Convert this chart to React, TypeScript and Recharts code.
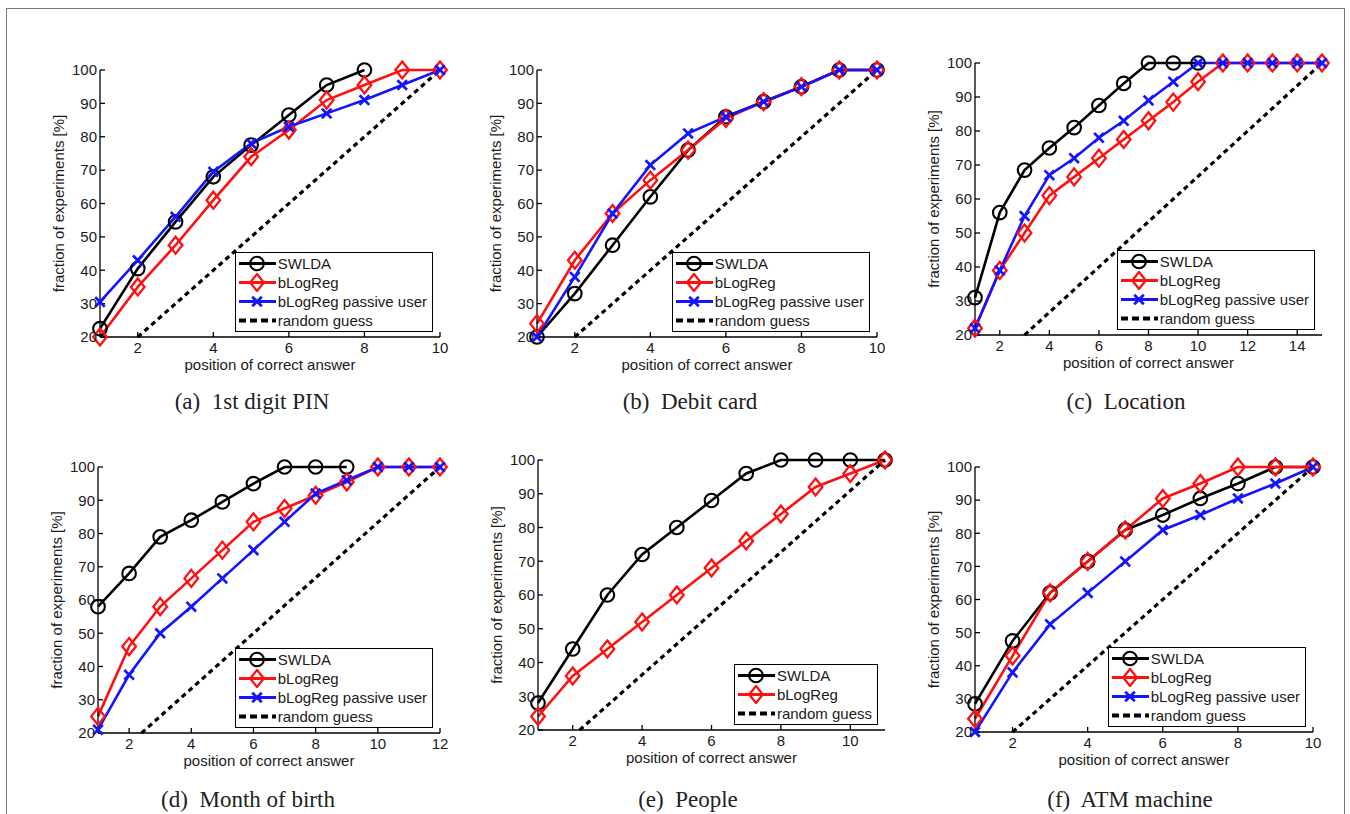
import { LineChart, Line, XAxis, YAxis, Legend } from 'recharts';

const SANS = '"Liberation Sans", Arial, Helvetica, sans-serif';
const SERIF = '"Liberation Serif", "Times New Roman", serif';
const INK = '#1a1a1a';

const yTicks = [20, 30, 40, 50, 60, 70, 80, 90, 100];
const randomY = [20, 100];

// (a) 1st digit PIN
const pinSwlda = [22.5, 40.5, 54.5, 68, 77.5, 86.5, 95.5, 100];
const pinBlogreg = [20, 35, 47.5, 61, 74, 82, 91, 95.5, 100, 100];
const pinPassive = [30.5, 43, 56, 69.5, 78, 83, 87, 91, 95.5, 100];
const pinRandomX = [2, 10];

// (b) Debit card
const debitSwlda = [20, 33, 47.5, 62, 76, 86, 90.5, 95, 100, 100];
const debitBlogreg = [24, 43, 57, 67, 76, 85.5, 90.5, 95, 100, 100];
const debitPassive = [20, 38, 57, 71.5, 81, 86, 90.5, 95, 100, 100];
const debitRandomX = [2, 10];

// (c) Location
const locSwlda = [31, 56, 68.5, 75, 81, 87.5, 94, 100, 100, 100];
const locBlogreg = [22, 39, 50, 61, 66.5, 72, 77.5, 83, 88.5, 94.5, 100, 100, 100, 100, 100];
const locPassive = [22, 39, 55, 67, 72, 78, 83, 89, 94.5, 100, 100, 100, 100, 100, 100];
const locRandomX = [3, 15];

// (d) Month of birth
const monthSwlda = [58, 68, 79, 84, 89.5, 95, 100, 100, 100];
const monthBlogreg = [25, 46, 58, 66.5, 75, 83.5, 87.5, 91.5, 95.5, 100, 100, 100];
const monthPassive = [21, 37.5, 50, 58, 66.5, 75, 83.5, 92, 96, 100, 100, 100];
const monthRandomX = [2.4, 12];

// (e) People
const peopleSwlda = [28, 44, 60, 72, 80, 88, 96, 100, 100, 100, 100];
const peopleBlogreg = [24, 36, 44, 52, 60, 68, 76, 84, 92, 96, 100];
const peopleRandomX = [2.2, 11];

// (f) ATM machine
const atmSwlda = [28.5, 47.5, 62, 71.5, 81, 85.5, 90.5, 95, 100, 100];
const atmBlogreg = [24, 43, 62, 71.5, 81, 90.5, 95, 100, 100, 100];
const atmPassive = [20, 38, 52.5, 62, 71.5, 81, 85.5, 90.5, 95, 100];
const atmRandomX = [2, 10];

type Kind = 'swlda' | 'blogreg' | 'passive' | 'random';

const SERIES: Record<Kind, { name: string; color: string }> = {
  swlda: { name: 'SWLDA', color: '#000000' },
  blogreg: { name: 'bLogReg', color: '#ff1010' },
  passive: { name: 'bLogReg passive user', color: '#1414ff' },
  random: { name: 'random guess', color: '#000000' },
};

const toPoints = (ys: number[]) => ys.map((y, i) => ({ x: i + 1, y }));
const randomPoints = (xs: number[]) => xs.map((x, i) => ({ x, y: randomY[i] }));

function Marker({ kind, cx, cy }: { kind: Kind; cx: number; cy: number }) {
  if (kind === 'swlda') {
    return <circle cx={cx} cy={cy} r={6.8} fill="none" stroke="#000" strokeWidth={2.1} />;
  }
  if (kind === 'blogreg') {
    const pts = `${cx},${cy - 8.5} ${cx + 6.8},${cy} ${cx},${cy + 8.5} ${cx - 6.8},${cy}`;
    return <polygon points={pts} fill="none" stroke={SERIES.blogreg.color} strokeWidth={2.3} />;
  }
  if (kind === 'passive') {
    const d = 4.8;
    return (
      <g stroke={SERIES.passive.color} strokeWidth={2.7}>
        <line x1={cx - d} y1={cy - d} x2={cx + d} y2={cy + d} />
        <line x1={cx - d} y1={cy + d} x2={cx + d} y2={cy - d} />
      </g>
    );
  }
  return null;
}

function LegendBox({ kinds }: { kinds: Kind[] }) {
  return (
    <div
      style={{
        border: '1px solid #000',
        background: '#fff',
        padding: '1px 5px 1px 1px',
        fontFamily: SANS,
        fontSize: 15,
        color: INK,
        lineHeight: '19px',
        whiteSpace: 'nowrap',
      }}
    >
      {kinds.map((k) => (
        <div key={k} style={{ display: 'flex', alignItems: 'center', height: 19 }}>
          <svg width={40} height={19} style={{ display: 'block' }}>
            <line
              x1={2}
              x2={39}
              y1={9.5}
              y2={9.5}
              stroke={SERIES[k].color}
              strokeWidth={k === 'random' ? 4 : 2.8}
              strokeDasharray={k === 'random' ? '7 4' : undefined}
            />
            <Marker kind={k} cx={20} cy={9.5} />
          </svg>
          <span style={{ marginLeft: 1 }}>{SERIES[k].name}</span>
        </div>
      ))}
    </div>
  );
}

interface SeriesDef {
  kind: Kind;
  data: { x: number; y: number }[];
}

interface PanelProps {
  box: { left: number; top: number; right: number; bottom: number };
  xMax: number;
  xTicks: number[];
  series: SeriesDef[];
}

const YW = 82;
const XH = 56;
const MT = 10;
const MR = 15;

function Panel({ box, xMax, xTicks, series }: PanelProps) {
  const w = box.right - box.left;
  const h = box.bottom - box.top;
  return (
    <div style={{ position: 'absolute', left: box.left - YW, top: box.top - MT }}>
      <LineChart
        width={w + YW + MR}
        height={h + MT + XH}
        margin={{ top: MT, right: MR, left: 0, bottom: 0 }}
        style={{ fontFamily: SANS }}
      >
        <XAxis
          type="number"
          dataKey="x"
          domain={[1, xMax]}
          ticks={xTicks}
          interval={0}
          height={XH}
          stroke="#000"
          strokeWidth={1.3}
          tickSize={-5}
          tickMargin={10}
          tick={{ fill: INK, fontSize: 15 }}
          label={{ value: 'position of correct answer', position: 'center', fill: INK, fontSize: 15 }}
        />
        <XAxis
          xAxisId="top"
          orientation="top"
          type="number"
          domain={[1, xMax]}
          ticks={xTicks}
          interval={0}
          height={0}
          stroke="#000"
          strokeWidth={1.3}
          tickSize={-5}
          tick={false}
        />
        <YAxis
          type="number"
          domain={[20, 100]}
          ticks={yTicks}
          interval={0}
          width={YW}
          stroke="#000"
          strokeWidth={1.3}
          tickSize={-5}
          tickMargin={8}
          tick={{ fill: INK, fontSize: 15 }}
          label={{ value: 'fraction of experiments [%]', angle: -90, position: 'center', fill: INK, fontSize: 15 }}
        />
        <YAxis
          yAxisId="right"
          orientation="right"
          type="number"
          domain={[20, 100]}
          ticks={yTicks}
          interval={0}
          width={0}
          stroke="#000"
          strokeWidth={1.3}
          tickSize={-5}
          tick={false}
        />
        {series.map((s) => (
          <Line
            key={s.kind}
            data={s.data}
            dataKey="y"
            type="linear"
            stroke={SERIES[s.kind].color}
            strokeWidth={s.kind === 'random' ? 3.2 : 2.6}
            strokeDasharray={s.kind === 'random' ? '5 4' : undefined}
            dot={
              s.kind === 'random'
                ? false
                : (p: any) => <Marker key={`${s.kind}-${p.index}`} kind={s.kind} cx={p.cx} cy={p.cy} />
            }
            activeDot={false}
            isAnimationActive={false}
          />
        ))}
        <Legend
          layout="horizontal"
          verticalAlign="middle"
          content={() => <LegendBox kinds={series.map((s) => s.kind)} />}
          wrapperStyle={{
            left: 'auto',
            top: 'auto',
            right: MR + 7,
            bottom: XH + 5,
            width: 'auto',
            height: 'auto',
          }}
        />
      </LineChart>
    </div>
  );
}

function Caption({ x, y, text }: { x: number; y: number; text: string }) {
  return (
    <div
      style={{
        position: 'absolute',
        left: x,
        top: y,
        transform: 'translate(-50%, -50%)',
        fontFamily: SERIF,
        fontSize: 23,
        color: '#222',
        whiteSpace: 'pre',
      }}
    >
      {text}
    </div>
  );
}

const ticks10 = [2, 4, 6, 8, 10];

export default function App() {
  return (
    <div
      style={{
        position: 'absolute',
        left: 0,
        top: 0,
        width: 1350,
        height: 814,
        overflow: 'hidden',
        background: '#fff',
      }}
    >
      <div
        style={{
          position: 'absolute',
          left: 6,
          top: 8,
          width: 1337,
          height: 840,
          border: '1px solid #777',
        }}
      />
      <Panel
        box={{ left: 100, top: 70, right: 440, bottom: 337 }}
        xMax={10}
        xTicks={ticks10}
        series={[
          { kind: 'swlda', data: toPoints(pinSwlda) },
          { kind: 'blogreg', data: toPoints(pinBlogreg) },
          { kind: 'passive', data: toPoints(pinPassive) },
          { kind: 'random', data: randomPoints(pinRandomX) },
        ]}
      />
      <Caption x={252} y={402} text="(a)  1st digit PIN" />

      <Panel
        box={{ left: 537, top: 70, right: 877, bottom: 337 }}
        xMax={10}
        xTicks={ticks10}
        series={[
          { kind: 'swlda', data: toPoints(debitSwlda) },
          { kind: 'blogreg', data: toPoints(debitBlogreg) },
          { kind: 'passive', data: toPoints(debitPassive) },
          { kind: 'random', data: randomPoints(debitRandomX) },
        ]}
      />
      <Caption x={690} y={402} text="(b)  Debit card" />

      <Panel
        box={{ left: 975, top: 63, right: 1322, bottom: 335 }}
        xMax={15}
        xTicks={[2, 4, 6, 8, 10, 12, 14]}
        series={[
          { kind: 'swlda', data: toPoints(locSwlda) },
          { kind: 'blogreg', data: toPoints(locBlogreg) },
          { kind: 'passive', data: toPoints(locPassive) },
          { kind: 'random', data: randomPoints(locRandomX) },
        ]}
      />
      <Caption x={1126} y={402} text="(c)  Location" />

      <Panel
        box={{ left: 98, top: 467, right: 440, bottom: 733 }}
        xMax={12}
        xTicks={[2, 4, 6, 8, 10, 12]}
        series={[
          { kind: 'swlda', data: toPoints(monthSwlda) },
          { kind: 'blogreg', data: toPoints(monthBlogreg) },
          { kind: 'passive', data: toPoints(monthPassive) },
          { kind: 'random', data: randomPoints(monthRandomX) },
        ]}
      />
      <Caption x={248} y={800} text="(d)  Month of birth" />

      <Panel
        box={{ left: 538, top: 460, right: 885, bottom: 730 }}
        xMax={11}
        xTicks={ticks10}
        series={[
          { kind: 'swlda', data: toPoints(peopleSwlda) },
          { kind: 'blogreg', data: toPoints(peopleBlogreg) },
          { kind: 'random', data: randomPoints(peopleRandomX) },
        ]}
      />
      <Caption x={688} y={800} text="(e)  People" />

      <Panel
        box={{ left: 975, top: 467, right: 1313, bottom: 732 }}
        xMax={10}
        xTicks={ticks10}
        series={[
          { kind: 'swlda', data: toPoints(atmSwlda) },
          { kind: 'blogreg', data: toPoints(atmBlogreg) },
          { kind: 'passive', data: toPoints(atmPassive) },
          { kind: 'random', data: randomPoints(atmRandomX) },
        ]}
      />
      <Caption x={1130} y={800} text="(f)  ATM machine" />
    </div>
  );
}
